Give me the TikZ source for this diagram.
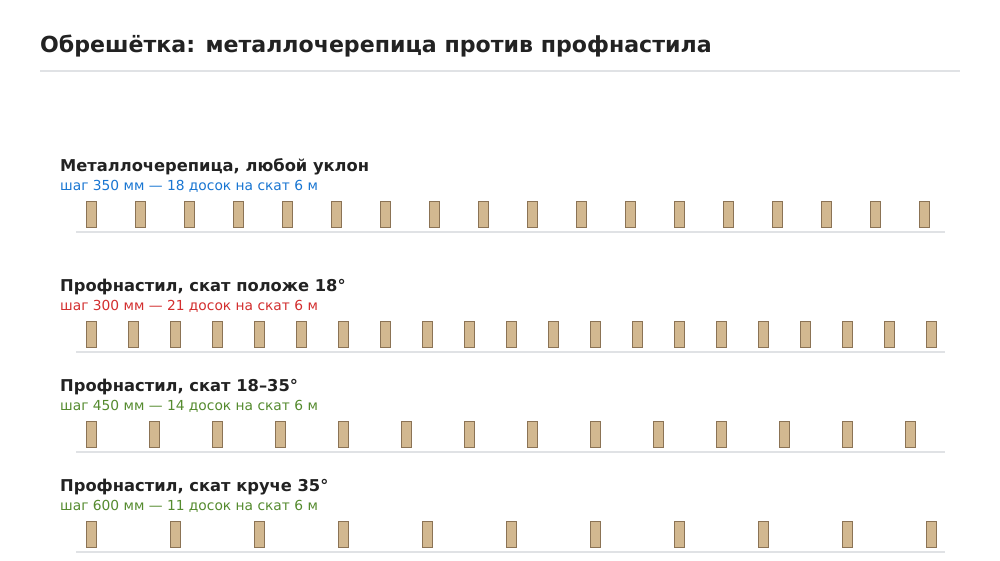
\documentclass[tikz,border=0pt]{standalone}
\usepackage{fontspec}
\setmainfont{DejaVu Sans}
\definecolor{ink}{HTML}{222222}
\definecolor{rulegray}{HTML}{E0E2E5}
\definecolor{boardfill}{HTML}{D2B890}
\definecolor{boardedge}{HTML}{8B7355}
\definecolor{subblue}{HTML}{1976D2}
\definecolor{subred}{HTML}{D32F2F}
\definecolor{subgreen}{HTML}{558B2F}
\begin{document}
\begin{tikzpicture}[x=1pt,y=-1pt,
  board/.style={draw=boardedge, fill=boardfill, line width=1pt, minimum width=10pt, minimum height=26pt, inner sep=0pt, anchor=north west},
  maintitle/.style={anchor=base west, inner sep=0pt, font=\fontsize{22.1}{26}\selectfont\bfseries, text=ink},
  rowtitle/.style={anchor=base west, inner sep=0pt, font=\fontsize{16.3}{20}\selectfont\bfseries, text=ink},
  rowsub/.style={anchor=base west, inner sep=0pt, font=\fontsize{13.8}{16}\selectfont},
  groundline/.style={draw=rulegray, line width=2pt}]
\useasboundingbox (0,0) rectangle (1000,560);
\fill[white] (0,0) rectangle (1000,560);
% heading
\node[maintitle] (title) at (40,52.5) {Обрешётка: металлочерепица против профнастила};
\coordinate (hrA) at (40,71);
\coordinate (hrB) at (960,71);
\draw[groundline] (hrA) -- (hrB);
% row 1
\node[rowtitle] (t1) at (60,171.5) {Металлочерепица, любой уклон};
\node[rowsub, text=subblue] (s1) at (60,190.5) {шаг 350 мм — 18 досок на скат 6 м};
\coordinate (g1a) at (76,231.5);
\coordinate (g1b) at (945,231.5);
\draw[groundline] (g1a) -- (g1b);
\foreach \i in {0,...,17} \node[board] (r1b\i) at ({85.5+49*\i},200.5) {};
% row 2
\node[rowtitle] (t2) at (60,291.5) {Профнастил, скат положе 18°};
\node[rowsub, text=subred] (s2) at (60,310.5) {шаг 300 мм — 21 досок на скат 6 м};
\coordinate (g2a) at (76,351.5);
\coordinate (g2b) at (945,351.5);
\draw[groundline] (g2a) -- (g2b);
\foreach \i in {0,...,20} \node[board] (r2b\i) at ({85.5+42*\i},320.5) {};
% row 3
\node[rowtitle] (t3) at (60,391.5) {Профнастил, скат 18–35°};
\node[rowsub, text=subgreen] (s3) at (60,410.5) {шаг 450 мм — 14 досок на скат 6 м};
\coordinate (g3a) at (76,451.5);
\coordinate (g3b) at (945,451.5);
\draw[groundline] (g3a) -- (g3b);
\foreach \i in {0,...,13} \node[board] (r3b\i) at ({85.5+63*\i},420.5) {};
% row 4
\node[rowtitle] (t4) at (60,491.5) {Профнастил, скат круче 35°};
\node[rowsub, text=subgreen] (s4) at (60,510.5) {шаг 600 мм — 11 досок на скат 6 м};
\coordinate (g4a) at (76,551.5);
\coordinate (g4b) at (945,551.5);
\draw[groundline] (g4a) -- (g4b);
\foreach \i in {0,...,10} \node[board] (r4b\i) at ({85.5+84*\i},520.5) {};
\end{tikzpicture}
\end{document}
